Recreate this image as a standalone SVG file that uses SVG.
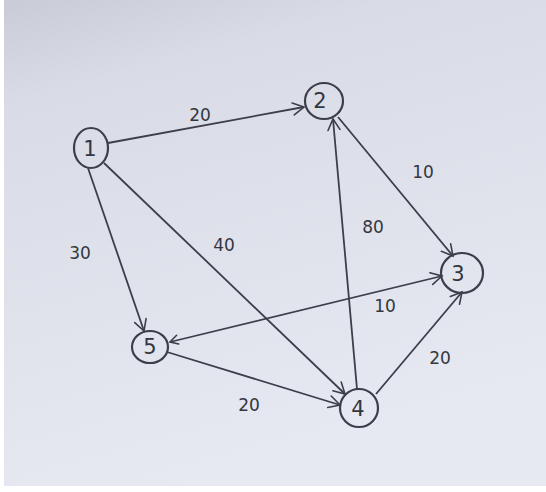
<svg xmlns="http://www.w3.org/2000/svg" width="546" height="492" viewBox="0 0 546 492">
  <defs>
    <linearGradient id="paper" x1="0" y1="0" x2="0.3" y2="1">
      <stop offset="0" stop-color="#c9ccd6"/>
      <stop offset="0.2" stop-color="#d9dce6"/>
      <stop offset="1" stop-color="#e6e9f1"/>
    </linearGradient>
    <marker id="arr" markerWidth="16" markerHeight="16" refX="13" refY="8" orient="auto" markerUnits="userSpaceOnUse">
      <path d="M2,2 L13,8 L2,14" fill="none" stroke="#3c3f4a" stroke-width="1.6" stroke-linecap="round"/>
    </marker>
    <marker id="arrs" markerWidth="14" markerHeight="14" refX="2" refY="7" orient="auto" markerUnits="userSpaceOnUse">
      <path d="M10,2 L2,7 L10,11" fill="none" stroke="#3c3f4a" stroke-width="1.6" stroke-linecap="round"/>
    </marker>
  </defs>
  <style>
    .node ellipse { fill: none; stroke: #3c3f4a; stroke-width: 2.2; }
    .node text { font-family: "DejaVu Sans", sans-serif; font-size: 21px; fill: #33363f; text-anchor: middle; dominant-baseline: central; }
    .edges line { stroke: #3c3f4a; stroke-width: 1.8; marker-end: url(#arr); }
    .lbl { font-family: "DejaVu Sans", sans-serif; font-size: 17px; fill: #33363f; text-anchor: middle; dominant-baseline: central; }
  </style>
  <rect x="0" y="0" width="546" height="492" fill="#ffffff"/>
  <rect x="4" y="0" width="542" height="486" fill="url(#paper)"/>

  <g class="edges" id="connectors">
    <line id="e1-2" x1="108" y1="143" x2="304" y2="107"/>
    <line id="e1-5" x1="88" y1="168" x2="144" y2="331"/>
    <line id="e1-4" x1="104" y1="163" x2="345" y2="394"/>
    <line id="e2-3" x1="338" y1="117" x2="453" y2="256"/>
    <line id="e4-2" x1="357" y1="389" x2="333" y2="119"/>
    <line id="e5-3" x1="170" y1="342" x2="442" y2="276" marker-start="url(#arrs)"/>
    <line id="e5-4" x1="167" y1="352" x2="340" y2="405"/>
    <line id="e4-3" x1="376" y1="394" x2="462" y2="292"/>
  </g>

  <g id="labels">
    <text class="lbl" x="200" y="115">20</text>
    <text class="lbl" x="80" y="253">30</text>
    <text class="lbl" x="224" y="245">40</text>
    <text class="lbl" x="423" y="172">10</text>
    <text class="lbl" x="373" y="227">80</text>
    <text class="lbl" x="385" y="306">10</text>
    <text class="lbl" x="440" y="358">20</text>
    <text class="lbl" x="249" y="405">20</text>
  </g>

  <g id="node1" class="node">
    <ellipse cx="91" cy="148" rx="17" ry="20"/>
    <text x="90" y="149">1</text>
  </g>
  <g id="node2" class="node">
    <ellipse cx="324" cy="101" rx="19" ry="18"/>
    <text x="320" y="101">2</text>
  </g>
  <g id="node3" class="node">
    <ellipse cx="462" cy="273" rx="21" ry="20"/>
    <text x="458" y="274">3</text>
  </g>
  <g id="node5" class="node">
    <ellipse cx="150" cy="347" rx="18" ry="16"/>
    <text x="150" y="347">5</text>
  </g>
  <g id="node4" class="node">
    <ellipse cx="359" cy="408" rx="19" ry="19"/>
    <text x="358" y="409">4</text>
  </g>
</svg>
